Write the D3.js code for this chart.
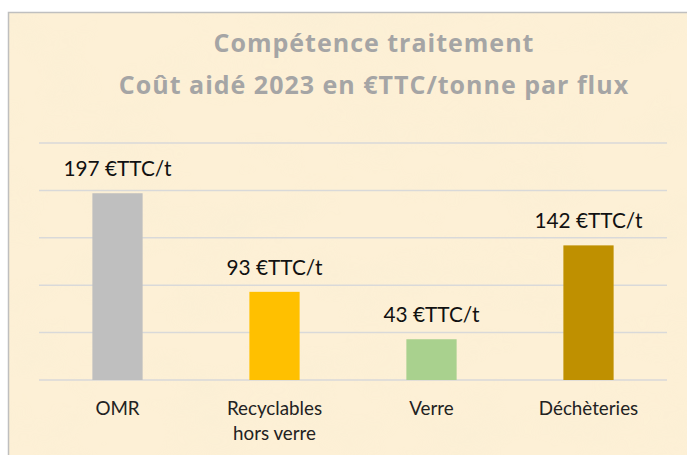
<!DOCTYPE html>
<html>
<head>
<meta charset="utf-8">
<script src="https://cdn.jsdelivr.net/npm/d3@7"></script>
<style>
  body { margin: 0; background: #fff; }
  svg { display: block; }
</style>
</head>
<body>
<div id="chart"></div>
<script>
// chart data
const categories = ['OMR', 'Recyclables\nhors verre', 'Verre', 'Déchèteries'];
const values = [197, 93, 43, 142];
const valueLabels = ['197 €TTC/t', '93 €TTC/t', '43 €TTC/t', '142 €TTC/t'];
const barColors = ['#BFBFBF', '#FFC000', '#A9D18E', '#BF9000'];
const gridTicks = [0, 50, 100, 150, 200, 250];
const titleLines = ['Compétence traitement', 'Coût aidé 2023 en €TTC/tonne par flux'];

const width = 687;
const height = 455;

const svg = d3.select('#chart')
    .append('svg')
    .attr('width', width)
    .attr('height', height);

// parchment-like background
const defs = svg.append('defs');
const filter = defs.append('filter')
    .attr('id', 'paper')
    .attr('x', 0).attr('y', 0)
    .attr('width', '100%').attr('height', '100%');
filter.append('feTurbulence')
    .attr('type', 'fractalNoise')
    .attr('baseFrequency', '0.012 0.02')
    .attr('numOctaves', 3)
    .attr('seed', 7)
    .attr('result', 'noise');
filter.append('feColorMatrix')
    .attr('in', 'noise')
    .attr('type', 'matrix')
    .attr('values', '0 0 0 0 0.93  0 0 0 0 0.85  0 0 0 0 0.66  0 0 0 -1.2 0.68');

svg.append('rect')
    .attr('x', 8).attr('y', 12)
    .attr('width', width).attr('height', height)
    .attr('fill', '#FDF0D6');

svg.append('rect')
    .attr('x', 8).attr('y', 12)
    .attr('width', width).attr('height', height)
    .attr('filter', 'url(#paper)')
    .attr('opacity', 0.6);

svg.append('rect')
    .attr('x', 8.5).attr('y', 12.5)
    .attr('width', width).attr('height', height)
    .attr('fill', 'none')
    .attr('stroke', '#BFBFBF')
    .attr('stroke-width', 1.5);

// scales
const x = d3.scaleBand()
    .domain(categories)
    .range([39, 667]);

const y = d3.scaleLinear()
    .domain([0, 250])
    .range([380, 143]);

const barWidth = x.bandwidth() * 0.32;

// gridlines
svg.append('g')
   .selectAll('line')
   .data(gridTicks)
   .enter()
   .append('line')
   .attr('x1', 39)
   .attr('x2', 667)
   .attr('y1', (d) => y(d))
   .attr('y2', (d) => y(d))
   .attr('stroke', '#D9D9D9')
   .attr('stroke-width', 1.5);

// bars
svg.append('g')
   .selectAll('rect')
   .data(values)
   .enter()
   .append('rect')
   .attr('x', (d, i) => x(categories[i]) + (x.bandwidth() - barWidth) / 2)
   .attr('y', (d) => y(d))
   .attr('width', barWidth)
   .attr('height', (d) => y(0) - y(d))
   .attr('fill', (d, i) => barColors[i]);

// value labels
svg.append('g')
   .selectAll('text')
   .data(values)
   .enter()
   .append('text')
   .attr('x', (d, i) => x(categories[i]) + x.bandwidth() / 2)
   .attr('y', (d) => y(d) - 17)
   .attr('text-anchor', 'middle')
   .style('font-family', 'Lato, sans-serif')
   .style('font-size', '20.8px')
   .style('fill', '#111')
   .text((d, i) => valueLabels[i]);

// category labels
const cat = svg.append('g')
   .selectAll('text')
   .data(categories)
   .enter()
   .append('text')
   .attr('x', (d) => x(d) + x.bandwidth() / 2)
   .attr('y', 415)
   .attr('text-anchor', 'middle')
   .style('font-family', 'Lato, sans-serif')
   .style('font-size', '18.8px')
   .style('fill', '#222');

cat.selectAll('tspan')
   .data((d) => d.split('\n'))
   .enter()
   .append('tspan')
   .attr('x', function () { return d3.select(this.parentNode).attr('x'); })
   .attr('dy', (d, i) => i === 0 ? 0 : 25)
   .text((d) => d);

// title
svg.append('g')
   .selectAll('text')
   .data(titleLines)
   .enter()
   .append('text')
   .attr('x', 374)
   .attr('y', (d, i) => 52 + i * 41.5)
   .attr('text-anchor', 'middle')
   .style('font-family', '"Open Sans", sans-serif')
   .style('font-weight', 'bold')
   .style('font-size', '25px')
   .style('letter-spacing', '1px')
   .style('fill', '#A5A5A5')
   .text((d) => d);
</script>
</body>
</html>
